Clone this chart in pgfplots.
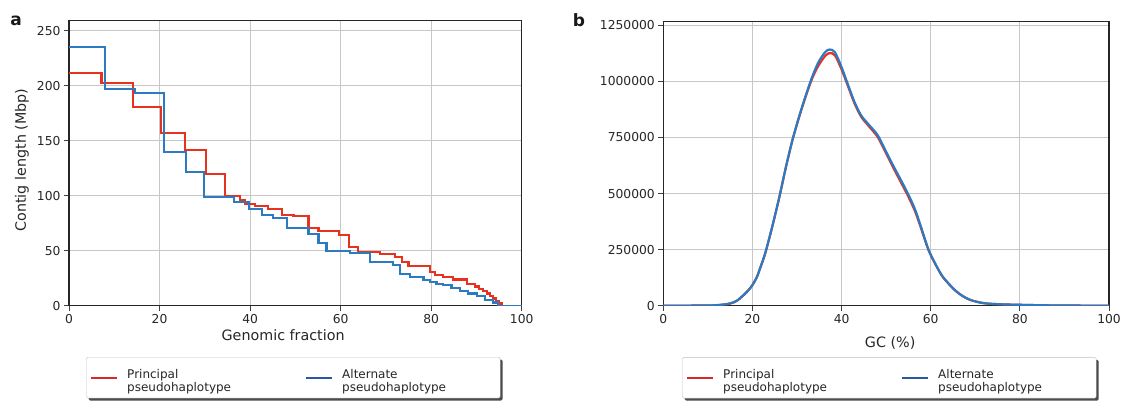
\documentclass[border=0pt]{standalone}
\usepackage{fontspec}
\setmainfont{DejaVu Sans}
\usepackage{pgfplots}
\pgfplotsset{compat=1.18}
\usetikzlibrary{shadows}

\definecolor{pred}{RGB}{230,50,30}
\definecolor{palt}{RGB}{44,122,194}
\definecolor{legred}{RGB}{214,40,40}
\definecolor{legblue}{RGB}{40,88,160}

% step data: contig length (Mbp) vs genomic fraction (%)
\pgfplotstableread{
x y
0 211.8
7.2 202.4
14.1 180.3
20.25 157
25.7 141.5
30.3 119.4
34.5 99.7
37.8 96
38.9 92.4
41.1 90.6
44.0 87.9
47.0 82.4
49.6 81.5
52.9 70.9
55.1 68.2
59.7 64.2
61.9 53.6
63.9 49.1
68.7 46.7
72.0 44.5
73.5 39.4
75.0 36.1
79.7 30.9
80.9 27.9
82.7 26.4
84.9 23.9
87.9 19.7
89.7 17.5
90.5 15.5
91.5 13.5
92.3 11
93.0 8.8
93.7 6.5
94.4 4
95.0 2
95.6 0
100 0
}\principal

\pgfplotstableread{
x y
0 234.8
7.95 196.7
14.6 193.6
21.06 140
25.85 121.8
29.9 99.1
36.4 94.5
39.8 87.9
42.7 82.4
45.1 79.4
48.1 70.3
52.9 65.2
55.1 57.3
56.9 50
62.1 47.6
66.5 40
71.6 37
73.1 28.8
75.3 26.4
78.3 23.5
79.7 21.5
81.2 20
82.7 18.5
84.5 16
86.4 13.5
88.2 11
90.1 8.5
91.9 5.5
93.7 3
94.8 0
100 0
}\alternate

% GC content distribution
\pgfplotstableread{
x y
0 0
10 1000
13 4000
15 10000
16.5 22000
18 47000
19 67000
20 92000
21 128000
21.7 166000
22.4 205000
23.1 250000
24.6 365000
26.1 490000
27.5 617000
29.0 740000
30.5 843000
31.9 930000
33.4 1013000
34.8 1070000
36.3 1113000
37.3 1126000
38.5 1116000
40 1053000
41.5 975000
42.9 902000
44.4 842000
46.2 798000
48.1 752000
49.9 682000
51.7 611000
53.5 543000
55 485000
56.5 420000
58 335000
59.5 248000
61 187000
62.5 134000
64 98000
65.5 68000
67 45000
69 25000
72 11000
76 6000
80 4000
85 2000
90 800
100 0
}\gcprincipal

\pgfplotstableread{
x y
0 0
10 1000
13 4000
15 10000
16.5 22000
18 47000
19 67000
20 92000
21 128000
21.7 166000
22.4 205000
23.1 250000
24.6 365000
26.1 490000
27.5 617000
29.0 740000
30.5 845000
31.9 933000
33.4 1020000
34.8 1085000
36.3 1130000
37.3 1142000
38.5 1130000
40 1063000
41.5 982000
42.9 908000
44.4 848000
46.2 805000
48.1 760000
49.9 690000
51.7 620000
53.5 553000
55 495000
56.5 428000
58 340000
59.5 250000
61 188000
62.5 135000
64 99000
65.5 68000
67 45000
69 25000
72 11000
76 6000
80 4000
85 2000
90 800
100 0
}\gcalternate

\pgfplotsset{
  panel/.style={
    scale only axis,
    axis line style={black!85, line width=1.1pt},
    grid=major, major grid style={black!22, line width=0.9pt},
    tick align=outside, xtick pos=bottom, ytick pos=left,
    major tick length=5pt, tick style={black!75, line width=0.8pt},
    ticklabel style={font=\fontsize{12.3}{14}\selectfont, text=black!85},
    /pgf/number format/assume math mode=true,
    /pgf/number format/fixed, /pgf/number format/1000 sep={},
    scaled y ticks=false,
    label style={font=\fontsize{14.3}{16}\selectfont, text=black!85, inner sep=0pt},
    xmin=0, xmax=100, xtick={0,20,...,100},
    legend columns=2,
    legend style={draw=black!25, fill=white, rounded corners=1.5pt,
      drop shadow={shadow xshift=2.5pt, shadow yshift=-2.5pt, fill=black!70, opacity=1},
      font=\fontsize{12}{13}\selectfont, text=black!85,
      inner xsep=4pt, inner ysep=12pt, column sep=0pt,
      nodes={inner sep=0pt, anchor=west},
      /tikz/every odd column/.append style={column sep=9pt},
      /tikz/every even column/.append style={column sep=8pt},
      anchor=north west},
  },
  legline/.style={legend image code/.code={%
    \pgfsetlinewidth{2pt}\pgfsetstrokecolor{#1}%
    \pgfpathmoveto{\pgfqpoint{0pt}{0pt}}\pgfpathlineto{\pgfqpoint{26pt}{0pt}}%
    \pgfusepath{stroke}}},
}

\begin{document}
\begin{tikzpicture}
\path[use as bounding box] (0,0) rectangle (1132pt,-404pt);

\begin{axis}[panel,
  at={(69pt,-305.7pt)}, anchor=south west,
  width=452.7pt, height=285pt,
  ymin=0, ymax=259, ytick={0,50,...,250},
  xlabel={Genomic fraction},
  ylabel={Contig length (Mbp)},
  xlabel style={at={(axis description cs:0.473,-0.083)}, anchor=north},
  ylabel style={at={(axis description cs:-0.104,0.511)}, anchor=center},
  legend style={at={(axis description cs:0.0376,-0.18)}},
]
  \addplot[const plot, pred, line width=2.2pt, legline=legred] table[x=x, y=y] {\principal};
  \addlegendentry{\parbox[c]{170pt}{Principal\\pseudohaplotype}}
  \addplot[const plot, palt, line width=2.2pt, legline=legblue] table[x=x, y=y] {\alternate};
  \addlegendentry{\parbox[c]{154pt}{Alternate\\pseudohaplotype}}
\end{axis}

\begin{axis}[panel,
  at={(663.3pt,-305.7pt)}, anchor=south west,
  width=445.7pt, height=284pt,
  ymin=0, ymax=1266000, ytick={0,250000,...,1250000},
  xlabel={GC (\%)},
  xlabel style={at={(axis description cs:0.509,-0.107)}, anchor=north},
  legend style={at={(axis description cs:0.042,-0.181)}},
]
  \addplot[smooth, pred, line width=2.2pt, legline=legred] table[x=x, y=y] {\gcprincipal};
  \addlegendentry{\parbox[c]{170pt}{Principal\\pseudohaplotype}}
  \addplot[smooth, palt, line width=2.2pt, legline=legblue] table[x=x, y=y] {\gcalternate};
  \addlegendentry{\parbox[c]{154pt}{Alternate\\pseudohaplotype}}
\end{axis}

\node[font=\bfseries\fontsize{17}{17}\selectfont, text=black!90] at (16pt,-21pt) {a};
\node[font=\bfseries\fontsize{17}{17}\selectfont, text=black!90] at (579pt,-20.5pt) {b};
\end{tikzpicture}
\end{document}
